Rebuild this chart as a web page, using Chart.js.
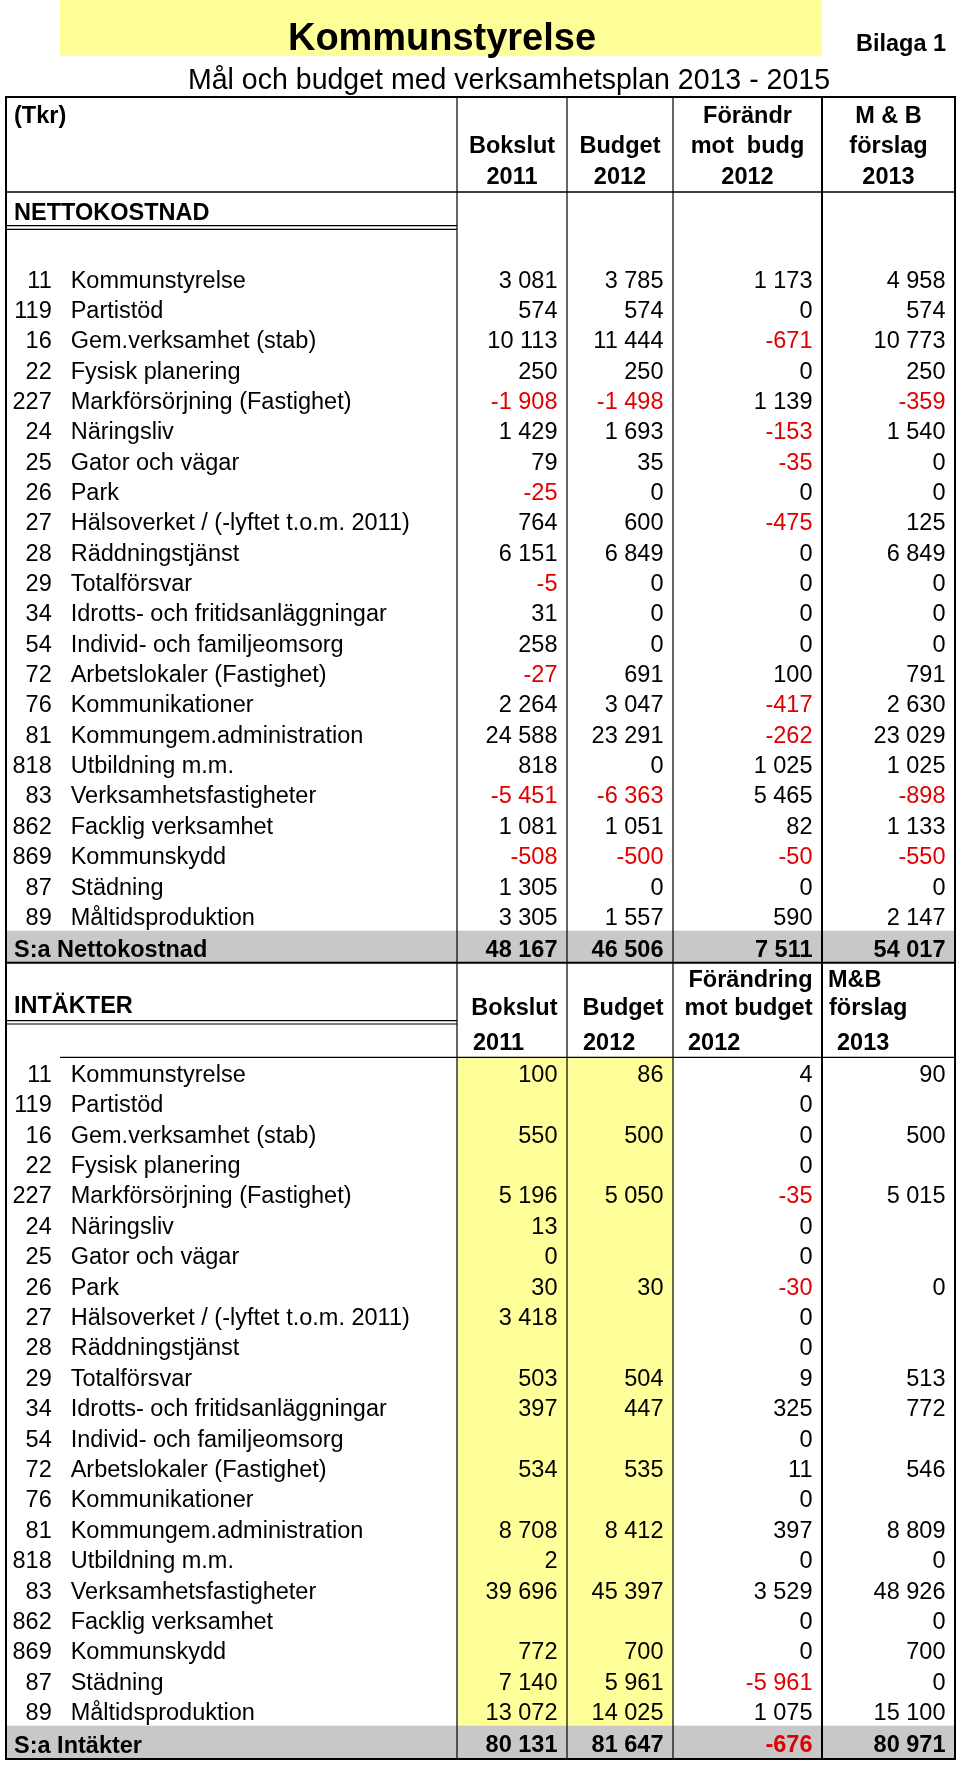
<!DOCTYPE html>
<html>
<head>
<meta charset="utf-8">
<script src="https://cdn.jsdelivr.net/npm/chart.js@4.4.1/dist/chart.umd.min.js"></script>
<style>
  body { margin: 0; background: #fff; }
  #tableCanvas { display: block; }
</style>
</head>
<body>
<canvas id="tableCanvas" width="960" height="1765"></canvas>
<script>
// row codes + names (same list in both sections)
const codes = ['11','119','16','22','227','24','25','26','27','28','29','34','54','72','76','81','818','83','862','869','87','89'];
const names = ['Kommunstyrelse','Partistöd','Gem.verksamhet (stab)','Fysisk planering','Markförsörjning (Fastighet)','Näringsliv','Gator och vägar','Park','Hälsoverket / (-lyftet t.o.m. 2011)','Räddningstjänst','Totalförsvar','Idrotts- och fritidsanläggningar','Individ- och familjeomsorg','Arbetslokaler (Fastighet)','Kommunikationer','Kommungem.administration','Utbildning m.m.','Verksamhetsfastigheter','Facklig verksamhet','Kommunskydd','Städning','Måltidsproduktion'];

// NETTOKOSTNAD
const nettoBokslut2011 = [3081, 574, 10113, 250, -1908, 1429, 79, -25, 764, 6151, -5, 31, 258, -27, 2264, 24588, 818, -5451, 1081, -508, 1305, 3305];
const nettoBudget2012 = [3785, 574, 11444, 250, -1498, 1693, 35, 0, 600, 6849, 0, 0, 0, 691, 3047, 23291, 0, -6363, 1051, -500, 0, 1557];
const nettoForandr2012 = [1173, 0, -671, 0, 1139, -153, -35, 0, -475, 0, 0, 0, 0, 100, -417, -262, 1025, 5465, 82, -50, 0, 590];
const nettoForslag2013 = [4958, 574, 10773, 250, -359, 1540, 0, 0, 125, 6849, 0, 0, 0, 791, 2630, 23029, 1025, -898, 1133, -550, 0, 2147];
const nettoTotals = [48167, 46506, 7511, 54017];

// INTÄKTER (null = empty cell)
const intBokslut2011 = [100, null, 550, null, 5196, 13, 0, 30, 3418, null, 503, 397, null, 534, null, 8708, 2, 39696, null, 772, 7140, 13072];
const intBudget2012 = [86, null, 500, null, 5050, null, null, 30, null, null, 504, 447, null, 535, null, 8412, null, 45397, null, 700, 5961, 14025];
const intForandr2012 = [4, 0, 0, 0, -35, 0, 0, -30, 0, 0, 9, 325, 0, 11, 0, 397, 0, 3529, 0, 0, -5961, 1075];
const intForslag2013 = [90, null, 500, null, 5015, null, null, 0, null, null, 513, 772, null, 546, null, 8809, 0, 48926, 0, 700, 0, 15100];
const intTotals = [80131, 81647, -676, 80971];

// header texts
const nettoHeaders = [['Bokslut', '2011'], ['Budget', '2012'], ['Förändr', 'mot  budg', '2012'], ['M & B', 'förslag', '2013']];
const intHeaders = [['Bokslut', '2011'], ['Budget', '2012'], ['Förändring', 'mot budget', '2012'], ['M&B', 'förslag', '2013']];

const FONT = '"Liberation Sans", Arial, Helvetica, sans-serif';
const FS = 23.5;
const RED = '#e00000';
const YELLOW = '#ffff99';
const GRAY = '#c8c8c8';

// column edges and where numbers end
const colEdges = [6, 457, 567, 673, 822, 955];
const numRight = [557.5, 663.5, 812.5, 945.5];

function nettoRowY(i) { return 287.5 + i * 30.35; }
function intRowY(i) { return 1081.7 + i * 30.4; }

function fmt(n) {
  const s = Math.abs(n).toString().replace(/\B(?=(\d{3})+(?!\d))/g, ' ');
  return (n < 0 ? '-' : '') + s;
}

const tablePlugin = {
  id: 'tablePlugin',
  beforeDatasetsDraw(chart) {
    const ctx = chart.ctx;
    const px = v => chart.scales.x.getPixelForValue(v);
    const py = v => chart.scales.y.getPixelForValue(v);

    function fillCell(x0, x1, y0, y1, color) {
      ctx.fillStyle = color;
      ctx.fillRect(px(x0), py(y0), px(x1) - px(x0), py(y1) - py(y0));
    }
    function line(x0, y0, x1, y1, w) {
      ctx.lineWidth = w;
      ctx.strokeStyle = '#000';
      ctx.beginPath();
      ctx.moveTo(px(x0), py(y0));
      ctx.lineTo(px(x1), py(y1));
      ctx.stroke();
    }
    function text(str, x, y, opts) {
      opts = opts || {};
      ctx.font = (opts.bold ? 'bold ' : '') + (opts.size || FS) + 'px ' + FONT;
      ctx.fillStyle = opts.color || '#000';
      ctx.textAlign = opts.align || 'left';
      ctx.textBaseline = 'alphabetic';
      if (opts.maxWidth) ctx.fillText(str, px(x), py(y), opts.maxWidth);
      else ctx.fillText(str, px(x), py(y));
    }
    function num(n, col, y, bold) {
      if (n === null) return;
      text(fmt(n), numRight[col], y, {align: 'right', bold: bold, color: n < 0 ? RED : '#000'});
    }

    ctx.save();
    // title
    fillCell(60, 822, 0, 56, YELLOW);
    text('Kommunstyrelse', 288, 49.5, {bold: true, size: 38, maxWidth: 308});
    text('Bilaga 1', 856, 50.5, {bold: true, size: 23.5});
    text('Mål och budget med verksamhetsplan 2013 - 2015', 188, 89, {size: 28.6, maxWidth: 642});

    // fills
    fillCell(colEdges[0], colEdges[5], 930.7, 962.7, GRAY);
    fillCell(colEdges[1], colEdges[3], 1057.3, 1725.7, YELLOW);
    fillCell(colEdges[0], colEdges[5], 1725.7, 1759, GRAY);

    // header netto
    text('(Tkr)', 14, 122.7, {bold: true});
    const headBase = [122.7, 153, 184.3];
    nettoHeaders.forEach((h, c) => {
      const cx = (colEdges[c + 1] + colEdges[c + 2]) / 2;
      h.forEach((t, k) => {
        text(t, cx, headBase[headBase.length - h.length + k], {bold: true, align: 'center'});
      });
    });
    text('NETTOKOSTNAD', 14, 220, {bold: true});

    // netto rows
    const nettoCols = [nettoBokslut2011, nettoBudget2012, nettoForandr2012, nettoForslag2013];
    codes.forEach((code, i) => {
      const y = nettoRowY(i);
      text(code, 51.7, y, {align: 'right'});
      text(names[i], 70.7, y);
      nettoCols.forEach((arr, c) => num(arr[i], c, y, false));
    });
    text('S:a Nettokostnad', 14, 957, {bold: true});
    nettoTotals.forEach((v, c) => num(v, c, 956.5, true));

    // header intäkter
    text('INTÄKTER', 14, 1013.3, {bold: true});
    text(intHeaders[0][0], numRight[0], 1015, {bold: true, align: 'right'});
    text(intHeaders[1][0], numRight[1], 1015, {bold: true, align: 'right'});
    text(intHeaders[2][0], numRight[2], 987.3, {bold: true, align: 'right'});
    text(intHeaders[2][1], numRight[2], 1015, {bold: true, align: 'right'});
    text(intHeaders[3][0], 828, 987.3, {bold: true});
    text(intHeaders[3][1], 829, 1015, {bold: true});
    const yearX = [473, 583, 688, 837];
    intHeaders.forEach((h, c) => text(h[h.length - 1], yearX[c], 1050, {bold: true}));

    // intäkter rows
    const intCols = [intBokslut2011, intBudget2012, intForandr2012, intForslag2013];
    codes.forEach((code, i) => {
      const y = intRowY(i);
      text(code, 51.7, y, {align: 'right'});
      text(names[i], 70.7, y);
      intCols.forEach((arr, c) => num(arr[i], c, y, false));
    });
    text('S:a Intäkter', 14, 1752.7, {bold: true});
    intTotals.forEach((v, c) => num(v, c, 1752.2, true));

    // grid lines
    [457, 567, 673].forEach(x => line(x, 97, x, 1759, 1.2));
    line(822, 97, 822, 1759, 2);
    line(colEdges[0], 192, colEdges[5], 192, 1.5);
    line(colEdges[0], 225.7, colEdges[1], 225.7, 1.2);
    line(colEdges[0], 229.3, colEdges[1], 229.3, 1.2);
    line(colEdges[0], 962.7, colEdges[5], 962.7, 2);
    line(colEdges[0], 1020.7, colEdges[1], 1020.7, 1.2);
    line(colEdges[0], 1024, colEdges[1], 1024, 1.2);
    line(60, 1057.3, colEdges[5], 1057.3, 1.2);
    // outer border
    ctx.lineWidth = 2;
    ctx.strokeStyle = '#000';
    ctx.strokeRect(px(colEdges[0]), py(97), px(colEdges[5]) - px(colEdges[0]), py(1759) - py(97));
    ctx.restore();
  }
};

const ctx = document.getElementById('tableCanvas').getContext('2d');
const chart = new Chart(ctx, {
  type: 'scatter',
  data: { datasets: [{ data: [] }] },
  options: {
    responsive: false,
    animation: false,
    devicePixelRatio: 1,
    layout: { padding: 0 },
    plugins: {
      legend: { display: false },
      tooltip: { enabled: false }
    },
    scales: {
      x: { type: 'linear', min: 0, max: 960, display: false },
      y: { type: 'linear', min: 0, max: 1765, reverse: true, display: false }
    }
  },
  plugins: [tablePlugin]
});
</script>
</body>
</html>
